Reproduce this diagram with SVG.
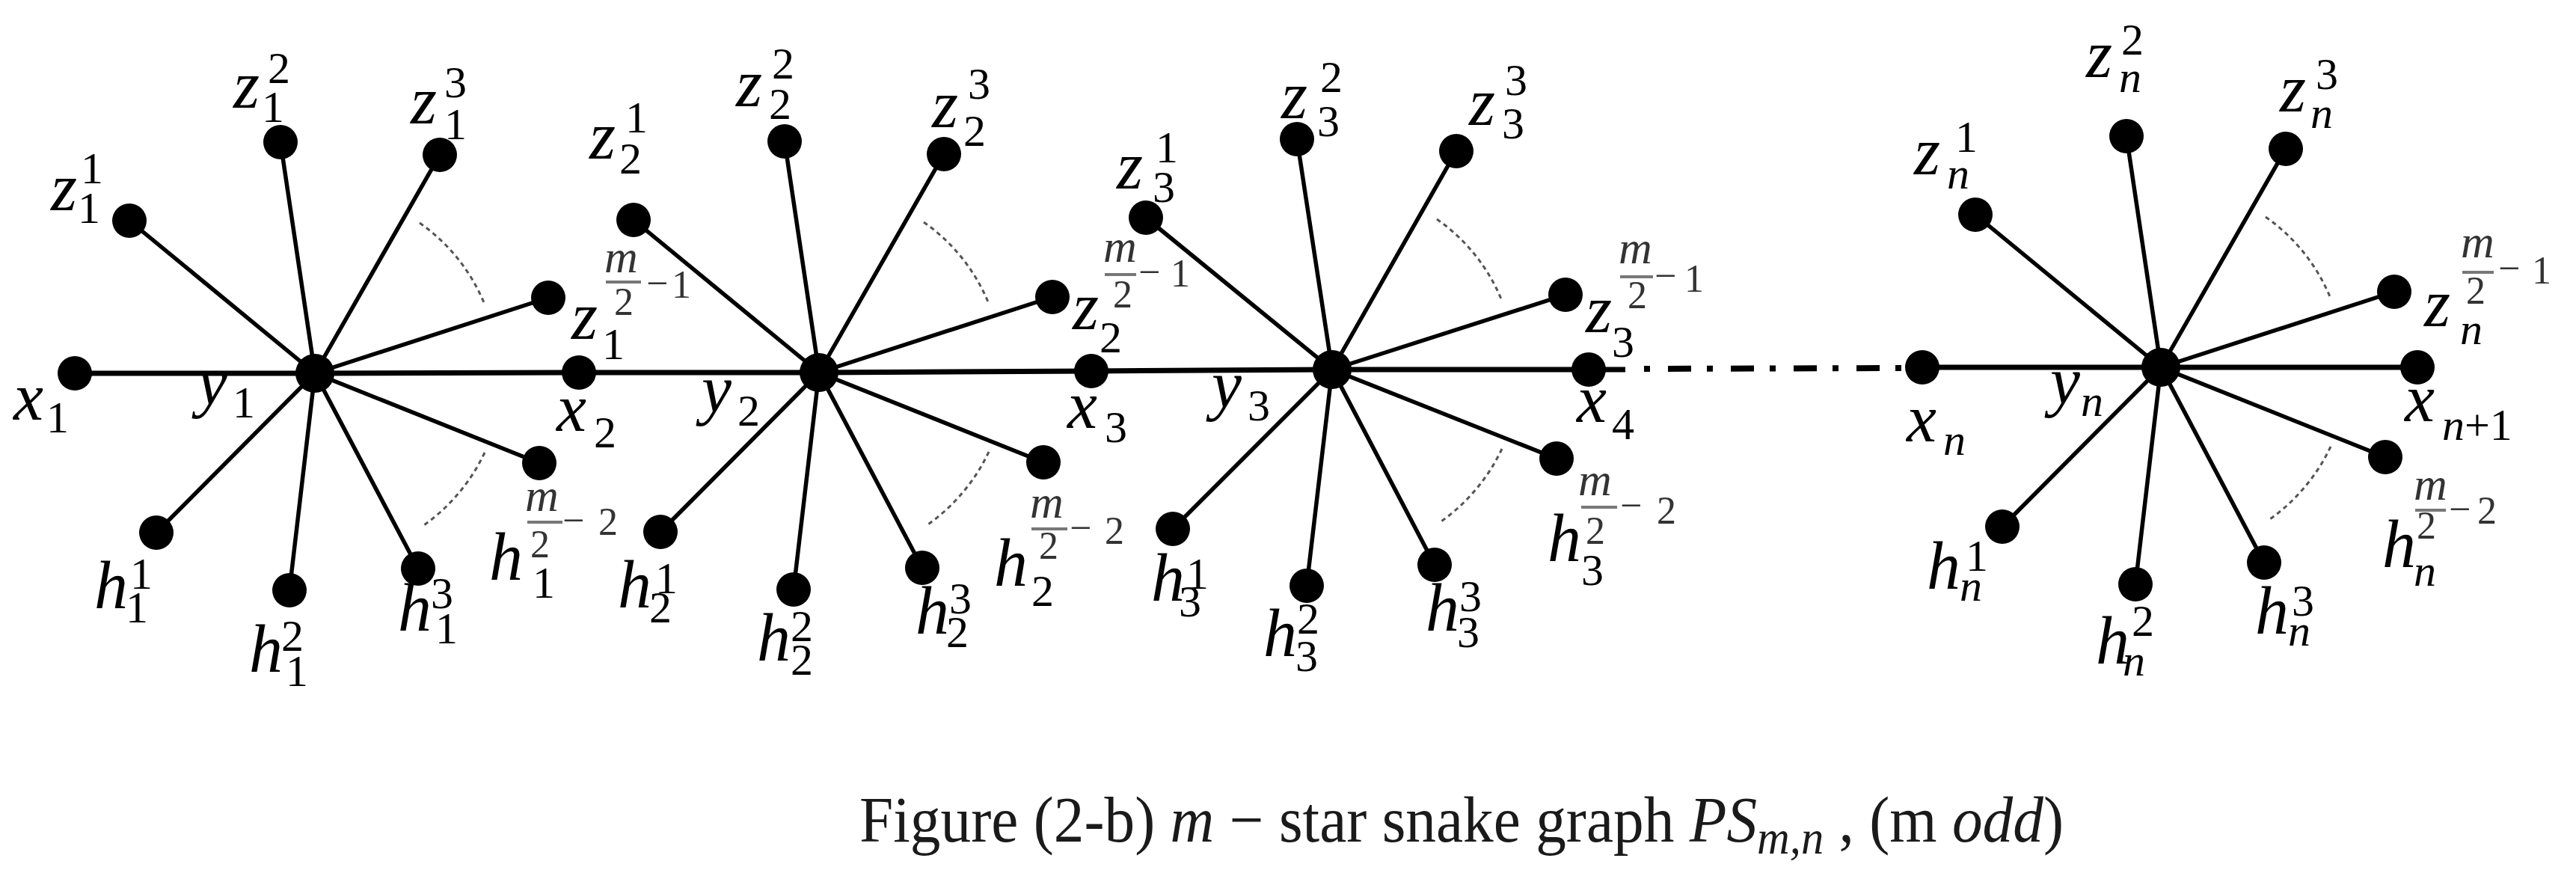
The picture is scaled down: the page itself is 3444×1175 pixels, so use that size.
<svg xmlns="http://www.w3.org/2000/svg" width="3444" height="1175" viewBox="0 0 3444 1175">
<style>
.L{font-family:"Liberation Serif","DejaVu Serif",serif;font-style:italic;font-size:90px;fill:#000}
.d{font-style:normal;font-size:60px}
.n{font-style:italic;font-size:60px}
.fm{font-family:"Liberation Serif",serif;font-style:italic;font-size:62px;fill:#333}
.fd{font-family:"Liberation Serif",serif;font-size:52px;fill:#333}
.bar{stroke:#777;stroke-width:4}
.sp{stroke:#000;stroke-width:5.5;fill:none}
.main{stroke:#000;stroke-width:7;fill:none}
.dd{stroke:#000;stroke-width:8;fill:none;stroke-dasharray:8 24 31 21}
.arc{stroke:#555;stroke-width:3;fill:none;stroke-dasharray:6 5}
.v{fill:#000}
.cap{font-family:"Liberation Serif","Times New Roman",serif;font-size:86px;fill:#1a1a1a}
</style>
<rect width="3444" height="1175" fill="#fff"/>
<g id="connectors">
<path class="main" d="M100 499 L421 499 L774 498 L1095 498 L1459 496 L1781 494 L2124 494 L2173 494"/>
<path class="dd" d="M2198 493 L2545 492"/>
<path class="main" d="M2570 491 L2889 491 L3232 491"/>
<path class="sp" d="M421 499 L173 295 M421 499 L375 190 M421 499 L588 207 M421 499 L733 398 M421 499 L209 712 M421 499 L387 789 M421 499 L559 760 M421 499 L721 619"/>
<path class="sp" d="M1095 498 L847 294 M1095 498 L1049 189 M1095 498 L1262 206 M1095 498 L1407 397 M1095 498 L883 711 M1095 498 L1061 788 M1095 498 L1233 759 M1095 498 L1395 618"/>
<path class="sp" d="M1781 494 L1532 291 M1781 494 L1734 186 M1781 494 L1947 202 M1781 494 L2093 394 M1781 494 L1568 707 M1781 494 L1747 783 M1781 494 L1918 755 M1781 494 L2081 613"/>
<path class="sp" d="M2889 491 L2641 287 M2889 491 L2843 182 M2889 491 L3056 199 M2889 491 L3201 390 M2889 491 L2677 704 M2889 491 L2855 781 M2889 491 L3027 752 M2889 491 L3189 611"/>
<path class="arc" d="M561 298 A245 245 0 0 1 648 407 M648 605 A250 250 0 0 1 564 704"/>
<path class="arc" d="M1235 297 A245 245 0 0 1 1322 406 M1322 604 A250 250 0 0 1 1238 703"/>
<path class="arc" d="M1921 293 A245 245 0 0 1 2008 402 M2008 600 A250 250 0 0 1 1924 699"/>
<path class="arc" d="M3029 290 A245 245 0 0 1 3116 399 M3116 597 A250 250 0 0 1 3032 696"/>
</g>

<!-- star 1 -->
<g id="y1"><circle class="v" cx="421" cy="499" r="26"/><text class="L"><tspan x="264" y="541">y</tspan><tspan class="d" x="311" y="558">1</tspan></text></g>
<g id="x1"><circle class="v" cx="100" cy="499" r="23"/><text class="L"><tspan x="18" y="561">x</tspan><tspan class="d" x="62" y="578">1</tspan></text></g>
<g id="x2"><circle class="v" cx="774" cy="498" r="23"/><text class="L"><tspan x="744" y="576">x</tspan><tspan class="d" x="794" y="598">2</tspan></text></g>
<g id="z1_1"><circle class="v" cx="173" cy="295" r="23"/><text class="L"><tspan x="68" y="281">z</tspan><tspan class="d" x="108" y="245">1</tspan><tspan class="d" x="104" y="298">1</tspan></text></g>
<g id="z1_2"><circle class="v" cx="375" cy="190" r="23"/><text class="L"><tspan x="312" y="144">z</tspan><tspan class="d" x="358" y="111">2</tspan><tspan class="d" x="350" y="163">1</tspan></text></g>
<g id="z1_3"><circle class="v" cx="588" cy="207" r="23"/><text class="L"><tspan x="549" y="165">z</tspan><tspan class="d" x="594" y="130">3</tspan><tspan class="d" x="594" y="186">1</tspan></text></g>
<g id="z1_m"><circle class="v" cx="733" cy="398" r="23"/><text class="L"><tspan x="764" y="453">z</tspan><tspan class="d" x="805" y="480">1</tspan></text><text class="fm" x="808" y="364">m</text><line class="bar" x1="810" y1="377" x2="857" y2="377"/><text class="fd" x="821" y="421">2</text><text class="fd" x="864" y="396">−</text><text class="fd" x="898" y="398">1</text></g>
<g id="h1_1"><circle class="v" cx="209" cy="712" r="23"/><text class="L"><tspan x="126" y="813">h</tspan><tspan class="d" x="174" y="787">1</tspan><tspan class="d" x="168" y="832">1</tspan></text></g>
<g id="h1_2"><circle class="v" cx="387" cy="789" r="23"/><text class="L"><tspan x="333" y="898">h</tspan><tspan class="d" x="376" y="870">2</tspan><tspan class="d" x="382" y="917">1</tspan></text></g>
<g id="h1_3"><circle class="v" cx="559" cy="760" r="23"/><text class="L"><tspan x="532" y="843">h</tspan><tspan class="d" x="576" y="813">3</tspan><tspan class="d" x="582" y="860">1</tspan></text></g>
<g id="h1_m"><circle class="v" cx="721" cy="619" r="23"/><text class="L"><tspan x="654" y="775">h</tspan><tspan class="d" x="712" y="799">1</tspan></text><text class="fm" x="702" y="683">m</text><line class="bar" x1="705" y1="698" x2="752" y2="698"/><text class="fd" x="709" y="745">2</text><text class="fd" x="752" y="713">−</text><text class="fd" x="800" y="715">2</text></g>

<!-- star 2 -->
<g id="y2"><circle class="v" cx="1095" cy="498" r="26"/><text class="L"><tspan x="938" y="551">y</tspan><tspan class="d" x="986" y="569">2</tspan></text></g>
<g id="x3"><circle class="v" cx="1459" cy="496" r="23"/><text class="L"><tspan x="1427" y="572">x</tspan><tspan class="d" x="1477" y="591">3</tspan></text></g>
<g id="z2_1"><circle class="v" cx="847" cy="294" r="23"/><text class="L"><tspan x="788" y="212">z</tspan><tspan class="d" x="836" y="177">1</tspan><tspan class="d" x="828" y="232">2</tspan></text></g>
<g id="z2_2"><circle class="v" cx="1049" cy="189" r="23"/><text class="L"><tspan x="984" y="142">z</tspan><tspan class="d" x="1032" y="105">2</tspan><tspan class="d" x="1028" y="159">2</tspan></text></g>
<g id="z2_3"><circle class="v" cx="1262" cy="206" r="23"/><text class="L"><tspan x="1246" y="170">z</tspan><tspan class="d" x="1294" y="132">3</tspan><tspan class="d" x="1288" y="195">2</tspan></text></g>
<g id="z2_m"><circle class="v" cx="1407" cy="397" r="23"/><text class="L"><tspan x="1434" y="440">z</tspan><tspan class="d" x="1470" y="471">2</tspan></text><text class="fm" x="1475" y="350">m</text><line class="bar" x1="1477" y1="367" x2="1519" y2="367"/><text class="fd" x="1488" y="411">2</text><text class="fd" x="1522" y="381">−</text><text class="fd" x="1565" y="383">1</text></g>
<g id="h2_1"><circle class="v" cx="883" cy="711" r="23"/><text class="L"><tspan x="826" y="812">h</tspan><tspan class="d" x="876" y="793">1</tspan><tspan class="d" x="868" y="832">2</tspan></text></g>
<g id="h2_2"><circle class="v" cx="1061" cy="788" r="23"/><text class="L"><tspan x="1012" y="883">h</tspan><tspan class="d" x="1057" y="857">2</tspan><tspan class="d" x="1057" y="902">2</tspan></text></g>
<g id="h2_3"><circle class="v" cx="1233" cy="759" r="23"/><text class="L"><tspan x="1224" y="847">h</tspan><tspan class="d" x="1269" y="820">3</tspan><tspan class="d" x="1265" y="865">2</tspan></text></g>
<g id="h2_m"><circle class="v" cx="1395" cy="618" r="23"/><text class="L"><tspan x="1329" y="783">h</tspan><tspan class="d" x="1379" y="810">2</tspan></text><text class="fm" x="1377" y="692">m</text><line class="bar" x1="1379" y1="707" x2="1427" y2="707"/><text class="fd" x="1389" y="747">2</text><text class="fd" x="1430" y="723">−</text><text class="fd" x="1477" y="727">2</text></g>

<!-- star 3 -->
<g id="y3"><circle class="v" cx="1781" cy="494" r="26"/><text class="L"><tspan x="1620" y="545">y</tspan><tspan class="d" x="1668" y="562">3</tspan></text></g>
<g id="x4"><circle class="v" cx="2124" cy="494" r="23"/><text class="L"><tspan x="2108" y="564">x</tspan><tspan class="d" x="2155" y="587">4</tspan></text></g>
<g id="z3_1"><circle class="v" cx="1532" cy="291" r="23"/><text class="L"><tspan x="1493" y="252">z</tspan><tspan class="d" x="1545" y="217">1</tspan><tspan class="d" x="1541" y="270">3</tspan></text></g>
<g id="z3_2"><circle class="v" cx="1734" cy="186" r="23"/><text class="L"><tspan x="1713" y="158">z</tspan><tspan class="d" x="1765" y="123">2</tspan><tspan class="d" x="1761" y="182">3</tspan></text></g>
<g id="z3_3"><circle class="v" cx="1947" cy="202" r="23"/><text class="L"><tspan x="1964" y="167">z</tspan><tspan class="d" x="2012" y="127">3</tspan><tspan class="d" x="2008" y="185">3</tspan></text></g>
<g id="z3_m"><circle class="v" cx="2093" cy="394" r="23"/><text class="L"><tspan x="2120" y="444">z</tspan><tspan class="d" x="2155" y="477">3</tspan></text><text class="fm" x="2164" y="352">m</text><line class="bar" x1="2166" y1="370" x2="2210" y2="370"/><text class="fd" x="2176" y="412">2</text><text class="fd" x="2212" y="386">−</text><text class="fd" x="2252" y="390">1</text></g>
<g id="h3_1"><circle class="v" cx="1568" cy="707" r="23"/><text class="L"><tspan x="1539" y="803">h</tspan><tspan class="d" x="1586" y="787">1</tspan><tspan class="d" x="1576" y="824">3</tspan></text></g>
<g id="h3_2"><circle class="v" cx="1747" cy="783" r="23"/><text class="L"><tspan x="1689" y="877">h</tspan><tspan class="d" x="1734" y="847">2</tspan><tspan class="d" x="1732" y="897">3</tspan></text></g>
<g id="h3_3"><circle class="v" cx="1918" cy="755" r="23"/><text class="L"><tspan x="1906" y="843">h</tspan><tspan class="d" x="1951" y="817">3</tspan><tspan class="d" x="1948" y="865">3</tspan></text></g>
<g id="h3_m"><circle class="v" cx="2081" cy="613" r="23"/><text class="L"><tspan x="2069" y="750">h</tspan><tspan class="d" x="2114" y="782">3</tspan></text><text class="fm" x="2110" y="662">m</text><line class="bar" x1="2114" y1="678" x2="2162" y2="678"/><text class="fd" x="2120" y="727">2</text><text class="fd" x="2166" y="693">−</text><text class="fd" x="2215" y="700">2</text></g>

<!-- star n -->
<g id="yn"><circle class="v" cx="2889" cy="491" r="26"/><text class="L"><tspan x="2741" y="540">y</tspan><tspan class="n" x="2782" y="556">n</tspan></text></g>
<g id="xn"><circle class="v" cx="2570" cy="491" r="23"/><text class="L"><tspan x="2549" y="590">x</tspan><tspan class="n" x="2598" y="608">n</tspan></text></g>
<g id="xn1"><circle class="v" cx="3232" cy="491" r="23"/><text class="L"><tspan x="3215" y="563">x</tspan><tspan class="n" x="3265" y="588" font-size="66px">n</tspan><tspan class="d" y="588" font-size="66px">+1</tspan></text></g>
<g id="zn_1"><circle class="v" cx="2641" cy="287" r="23"/><text class="L"><tspan x="2559" y="233">z</tspan><tspan class="d" x="2614" y="203">1</tspan><tspan class="n" x="2603" y="252">n</tspan></text></g>
<g id="zn_2"><circle class="v" cx="2843" cy="182" r="23"/><text class="L"><tspan x="2789" y="103">z</tspan><tspan class="d" x="2836" y="73">2</tspan><tspan class="n" x="2833" y="123">n</tspan></text></g>
<g id="zn_3"><circle class="v" cx="3056" cy="199" r="23"/><text class="L"><tspan x="3048" y="149">z</tspan><tspan class="d" x="3096" y="119">3</tspan><tspan class="n" x="3089" y="171">n</tspan></text></g>
<g id="zn_m"><circle class="v" cx="3201" cy="390" r="23"/><text class="L"><tspan x="3241" y="436">z</tspan><tspan class="n" x="3289" y="460">n</tspan></text><text class="fm" x="3290" y="344">m</text><line class="bar" x1="3292" y1="364" x2="3334" y2="364"/><text class="fd" x="3297" y="406">2</text><text class="fd" x="3340" y="376">−</text><text class="fd" x="3385" y="379">1</text></g>
<g id="hn_1"><circle class="v" cx="2677" cy="704" r="23"/><text class="L"><tspan x="2576" y="787">h</tspan><tspan class="d" x="2628" y="763">1</tspan><tspan class="n" x="2620" y="803">n</tspan></text></g>
<g id="hn_2"><circle class="v" cx="2855" cy="781" r="23"/><text class="L"><tspan x="2802" y="887">h</tspan><tspan class="d" x="2850" y="850">2</tspan><tspan class="n" x="2838" y="903">n</tspan></text></g>
<g id="hn_3"><circle class="v" cx="3027" cy="752" r="23"/><text class="L"><tspan x="3015" y="847">h</tspan><tspan class="d" x="3064" y="823">3</tspan><tspan class="n" x="3059" y="863">n</tspan></text></g>
<g id="hn_m"><circle class="v" cx="3189" cy="611" r="23"/><text class="L"><tspan x="3185" y="758">h</tspan><tspan class="n" x="3227" y="783">n</tspan></text><text class="fm" x="3227" y="668">m</text><line class="bar" x1="3229" y1="682" x2="3270" y2="682"/><text class="fd" x="3231" y="720">2</text><text class="fd" x="3274" y="698">−</text><text class="fd" x="3312" y="700">2</text></g>

<!-- caption -->
<text class="cap" x="1149" y="1125" textLength="1610" lengthAdjust="spacingAndGlyphs">Figure (2-b) <tspan font-style="italic">m</tspan> − star snake graph <tspan font-style="italic">PS</tspan><tspan font-style="italic" font-size="64px" dy="16">m,n</tspan><tspan dy="-16"> , (m </tspan><tspan font-style="italic">odd</tspan>)</text>
</svg>
